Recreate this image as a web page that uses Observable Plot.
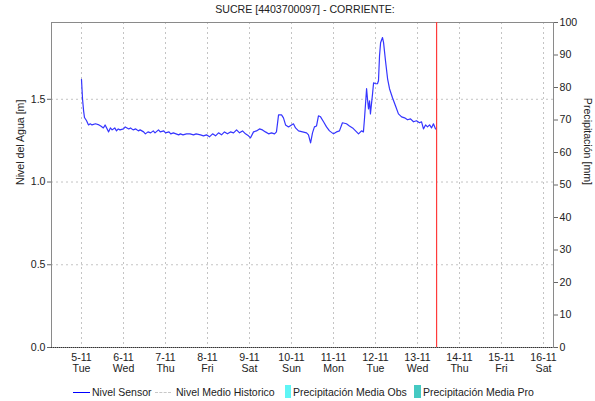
<!DOCTYPE html>
<html><head><meta charset="utf-8">
<script src="https://cdn.jsdelivr.net/npm/d3@7"></script>
<script src="https://cdn.jsdelivr.net/npm/@observablehq/plot@0.6"></script>
<style>
body{margin:0;background:#fff;font-family:"Liberation Sans",Arial,sans-serif;}
#wrap{position:relative;width:595px;height:401px;overflow:hidden;}
#title{position:absolute;left:0;width:610px;top:3px;text-align:center;font-size:10.6px;color:#222;}
.lg{position:absolute;top:386px;font-size:10.5px;color:#222;white-space:nowrap;line-height:13px;}
.sw{position:absolute;}
</style></head><body><div id="wrap"></div>
<script>
const title = "SUCRE [4403700097] - CORRIENTE:";
// hours since 5-11 00:00
const hours = [0,0.6,1.2,1.7,2.9,4,5,6,8,10,11,12.5,13.5,15.5,16.5,17.5,19,20,21,22,24,25,27,28,29.5,31,32.5,33.5,35.5,36.5,38,39.5,41,42,44,45,47,48,50,51,52.5,54,55.5,56.5,58,60,62,64,65.5,68,
69.7,71.4,73.1,74.9,76.6,78.3,80,81.7,83.4,85.1,86.9,88.6,90.3,92,93.7,95.4,96.6,98.3,100,101.7,103.4,105.1,106.9,108.6,110.3,111.4,112.6,114.3,115.4,116.6,118.3,120,121.1,122.3,124,126.3,128.6,129.7,130.9,132,133.1,134.3,135.4,136.6,138.3,140,141.7,144,145.7,147.4,149.1,151.4,153.1,154.9,156.6,158.3,160,161.1,161.7,162.9,163.4,164,164.6,165.1,166.3,166.9,168,169.1,169.7,170.3,170.9,172,172.6,173.7,174.9,176,177.7,179.4,181.1,182.9,184.6,186.3,188,189.7,191.4,193.1,194.3,195.4,196.6,197.7,198.9,200,201.1,202.3];
const nivel = [1.62,1.50,1.43,1.39,1.37,1.345,1.352,1.345,1.352,1.345,1.339,1.327,1.345,1.303,1.327,1.315,1.327,1.309,1.321,1.315,1.321,1.333,1.321,1.327,1.315,1.321,1.309,1.315,1.303,1.291,1.303,1.297,1.309,1.297,1.315,1.303,1.309,1.297,1.303,1.291,1.297,1.291,1.285,1.291,1.285,1.291,1.291,1.285,1.291,1.285,
1.279,1.285,1.273,1.291,1.279,1.297,1.285,1.303,1.291,1.303,1.297,1.315,1.297,1.309,1.291,1.279,1.267,1.303,1.309,1.321,1.315,1.303,1.291,1.297,1.291,1.303,1.406,1.406,1.388,1.345,1.333,1.345,1.352,1.327,1.309,1.303,1.297,1.285,1.236,1.297,1.333,1.339,1.400,1.394,1.364,1.333,1.309,1.291,1.303,1.309,1.358,1.352,1.339,1.327,1.309,1.291,1.309,1.303,1.382,1.564,1.503,1.442,1.491,1.412,1.533,1.600,1.594,1.594,1.612,1.764,1.842,1.873,1.842,1.733,1.624,1.564,1.509,1.461,1.412,1.394,1.388,1.376,1.382,1.364,1.370,1.358,1.364,1.321,1.345,1.333,1.345,1.327,1.352,1.321];
const dayLabels = ["5-11","6-11","7-11","8-11","9-11","10-11","11-11","12-11","13-11","14-11","15-11","16-11"];
const weekdays = ["Tue","Wed","Thu","Fri","Sat","Sun","Mon","Tue","Wed","Thu","Fri","Sat"];
const leftTicks = [0, 0.5, 1.0, 1.5];
const precipTicks = [0,10,20,30,40,50,60,70,80,90,100];
const nowHour = 202.9;
const xRangeHours = [-17.14, 269.7];
const yMax = 1.964;
const legendItems = ["Nivel Sensor","Nivel Medio Historico","Precipitación Media Obs","Precipitación Media Pro"];

const t0 = Date.UTC(2024, 10, 5);
const toDate = h => new Date(t0 + h * 3600000);
const data = hours.map((h, i) => ({t: toDate(h), v: nivel[i]}));
const tickDates = dayLabels.map((_, i) => toDate(24 * i));
const grid = {stroke: "#c4c4c4", strokeDasharray: "2,3", strokeWidth: 1};

const chart = Plot.plot({
  width: 595, height: 401,
  marginLeft: 51, marginRight: 42, marginTop: 22, marginBottom: 54,
  style: {fontFamily: '"Liberation Sans", Arial, sans-serif', fontSize: "10.6px", color: "#222", background: "#fff"},
  x: {type: "utc", domain: [toDate(xRangeHours[0]), toDate(xRangeHours[1])]},
  y: {domain: [0, yMax]},
  marks: [
    Plot.ruleX(tickDates, grid),
    Plot.ruleY(leftTicks.filter(d => d > 0), grid),
    Plot.frame({stroke: "#8a8a8a"}),
    Plot.ruleY([0], {stroke: "#333", strokeDasharray: "1,1"}),
    Plot.line(data, {x: "t", y: "v", stroke: "#3535ff", strokeWidth: 1.2}),
    Plot.ruleX([toDate(nowHour)], {stroke: "#ff3b3b", strokeWidth: 1.2}),
    Plot.axisX({ticks: tickDates, tickSize: 0, tickPadding: 6, label: null,
      tickFormat: d => { const i = Math.round((d - t0) / 864e5); return dayLabels[i] + "\n" + weekdays[i]; }}),
    Plot.axisY({ticks: leftTicks, tickSize: 4, tickPadding: 2, label: null, stroke: "#666", tickFormat: d3.format(".1f")}),
    Plot.axisY({anchor: "right", ticks: precipTicks.map(p => p * yMax / 100), tickSize: 4, tickPadding: 2, label: null, stroke: "#666",
      tickFormat: d => Math.round(d * 100 / yMax)}),
    Plot.text(["Nivel del Agua [m]"], {frameAnchor: "left", rotate: -90, dx: -31, fill: "#222"}),
    Plot.text(["Precipitación [mm]"], {frameAnchor: "right", rotate: 90, dx: 34, fill: "#222"})
  ]
});
const wrap = document.getElementById("wrap");
wrap.appendChild(chart);
const t = document.createElement("div"); t.id = "title"; t.textContent = title; wrap.appendChild(t);

function addLegend(text, left, swatch) {
  const s = document.createElement("div"); s.className = "sw"; Object.assign(s.style, swatch); wrap.appendChild(s);
  const l = document.createElement("div"); l.className = "lg"; l.style.left = left + "px"; l.textContent = text; wrap.appendChild(l);
}
addLegend(legendItems[0], 92, {left: "73px", top: "392px", width: "17px", height: "0", borderTop: "1.5px solid #0000ff"});
addLegend(legendItems[1], 176, {left: "155px", top: "392px", width: "16px", height: "0", borderTop: "1.5px dashed #c8c8c8"});
addLegend(legendItems[2], 293, {left: "285px", top: "385px", width: "6px", height: "13px", background: "#5ff5f5"});
addLegend(legendItems[3], 423, {left: "414px", top: "385px", width: "7px", height: "13px", background: "#45c9c2"});
</script></body></html>
